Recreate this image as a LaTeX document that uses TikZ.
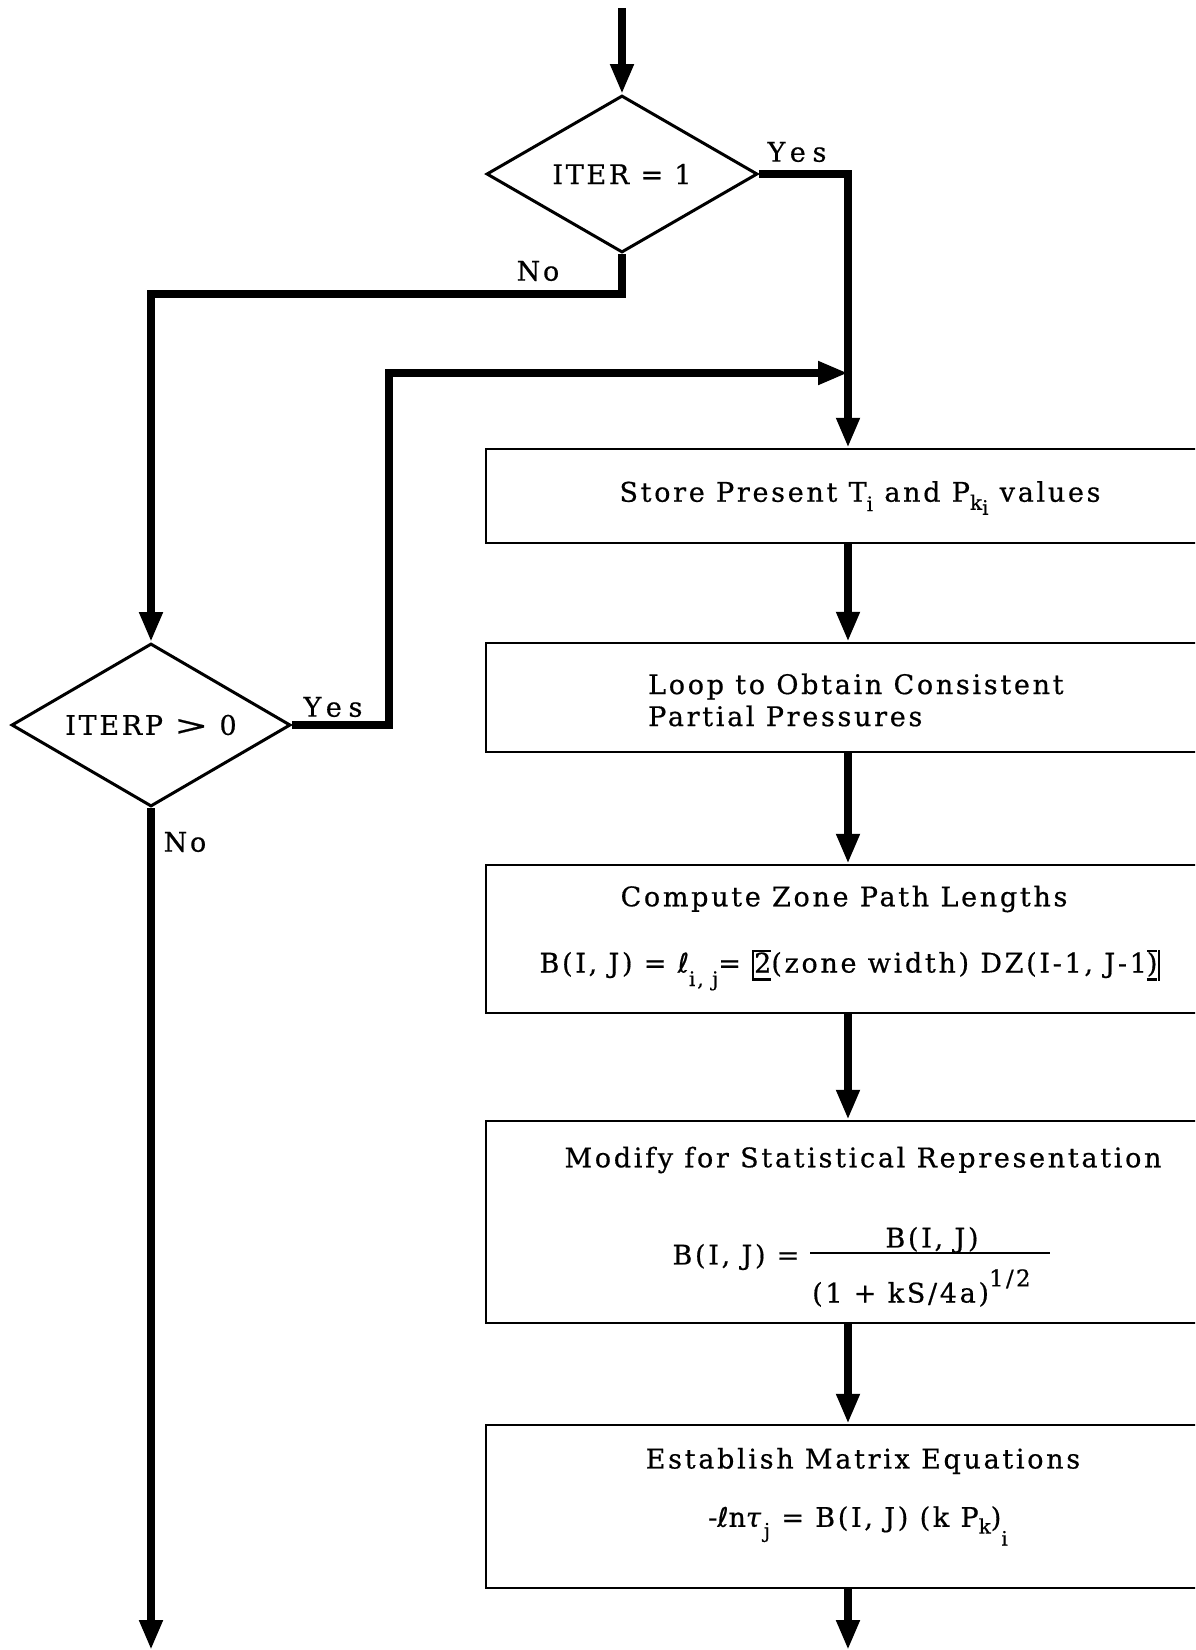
\documentclass[tikz,border=0pt]{standalone}
\usepackage{fontspec}
\setmainfont{DejaVu Serif}[LetterSpace=10,FakeBold=0.6]
\newfontfamily\symfont{DejaVu Sans}[FakeBold=0.6]
\usepackage{graphicx}
\usetikzlibrary{arrows.meta,shapes.geometric}

% lowered (subscript) text
\newcommand\lowr[2]{\raisebox{-#1}{\fontsize{20}{20}\selectfont #2}}
% script ell
\newcommand\scriptell{{\symfont ℓ}}
% square brackets whose bars run over and under the enclosed text
\newsavebox\brkcontent
\newcommand\openbrk[1]{\sbox\brkcontent{#1}%
  \vrule height 0.85em depth 0.3em width 2pt%
  \rlap{\vrule height 0.85em depth -0.77em width \wd\brkcontent}%
  \rlap{\vrule height -0.22em depth 0.3em width \wd\brkcontent}%
  \usebox\brkcontent}
\newcommand\closebrk[1]{\sbox\brkcontent{#1}%
  \rlap{\vrule height 0.85em depth -0.77em width \wd\brkcontent}%
  \rlap{\vrule height -0.22em depth 0.3em width \wd\brkcontent}%
  \usebox\brkcontent
  \kern1pt\vrule height 0.85em depth 0.3em width 2pt}

\begin{document}
\begin{tikzpicture}[x=1pt,y=-1pt,
  txt/.style={font=\fontsize{27}{32}\selectfont, inner sep=0pt},
  flow/.style={line width=7.5pt,-{Triangle[length=30pt,width=22pt]}},
  wire/.style={line width=7.5pt},
  decision/.style={diamond,draw,line width=3pt,inner sep=0pt,aspect=1.72,
    font=\fontsize{27}{32}\selectfont},
  stepbox/.style={rectangle,draw,line width=2.5pt,minimum width=750pt,inner sep=0pt},
  rulefrac/.style={line width=2.5pt}]

\useasboundingbox (0,0) rectangle (1195,1650);
\clip (0,0) rectangle (1195,1650);

% decisions
\node[decision, minimum width=271pt, minimum height=157pt] (iter) at (622,174) {ITER = 1};
\node[decision, minimum width=279pt, minimum height=163pt] (iterp) at (151,725)
  {ITERP \scalebox{1.5}[1]{>} 0};

% process boxes (they run off the right edge)
\node[stepbox, minimum height=94pt]  (store)  at (861,496)    {};
\node[stepbox, minimum height=109pt] (loop)   at (861,697.5)  {};
\node[stepbox, minimum height=148pt] (zone)   at (861,939)    {};
\node[stepbox, minimum height=202pt] (modify) at (861,1222)   {};
\node[stepbox, minimum height=163pt] (mateq)  at (861,1506.5) {};

% box texts
\node[txt] (storeT) at (860,498)
  {Store Present T\lowr{0.35em}{i} and P\lowr{0.3em}{k\lowr{0.25em}{i}} values};
\node[txt, anchor=west, align=left] (loopT) at (648,700)
  {Loop to Obtain Consistent\\Partial Pressures};
\node[txt] (zoneT) at (844,899) {Compute Zone Path Lengths};
\node[txt] (zoneEq) at (850,970)
  {B(I, J) = \scriptell\lowr{0.5em}{i, j}= \openbrk{2}(zone width) DZ(I-1, J-1\closebrk{)}};
\node[txt] (modifyT) at (863,1160) {Modify for Statistical Representation};
\node[txt] (modL) at (736,1257) {B(I, J) =};
\node[txt] (modNum) at (932,1240) {B(I, J)};
\coordinate (fracL) at (810,1253);
\coordinate (fracR) at (1050,1253);
\draw[rulefrac] (fracL) -- (fracR);
\node[txt, anchor=west] (modDen) at (812,1288)
  {(1 + kS/4a)\raisebox{0.6em}{\fontsize{23}{23}\selectfont 1/2}};
\node[txt] (mateqT) at (863,1461) {Establish Matrix Equations};
\node[txt] (mateqEq) at (858,1526)
  {-\scriptell n\textit{τ}\lowr{0.4em}{j} = B(I, J) (k P\lowr{0.25em}{k})\lowr{0.7em}{i}};

% branch labels
\node[txt] (yes1) at (797,152) {\addfontfeature{LetterSpace=25}Yes};
\node[txt] (no1)  at (538,271) {No};
\node[txt] (yes2) at (333,707) {\addfontfeature{LetterSpace=25}Yes};
\node[txt] (no2)  at (185,842) {No};

% connectors
\coordinate (entry) at (622,8);
\coordinate (merge) at (848,373);
\coordinate (leftexit) at (151,1650);
\coordinate (rightexit) at (848,1650);

\draw[flow] (entry) -- (iter.north);
\draw[wire] (iter.east) -| (merge);
\draw[flow] (iter.south) -- ++(0,40) -| (iterp.north);
\draw[flow] (iterp.east) -- ++(97,0) |- (merge);
\draw[flow] (iterp.south) -- (leftexit);
\draw[flow] (merge) -- (merge |- store.north);
\draw[flow] (merge |- store.south) -- (merge |- loop.north);
\draw[flow] (merge |- loop.south) -- (merge |- zone.north);
\draw[flow] (merge |- zone.south) -- (merge |- modify.north);
\draw[flow] (merge |- modify.south) -- (merge |- mateq.north);
\draw[flow] (merge |- mateq.south) -- (rightexit);
\end{tikzpicture}
\end{document}
